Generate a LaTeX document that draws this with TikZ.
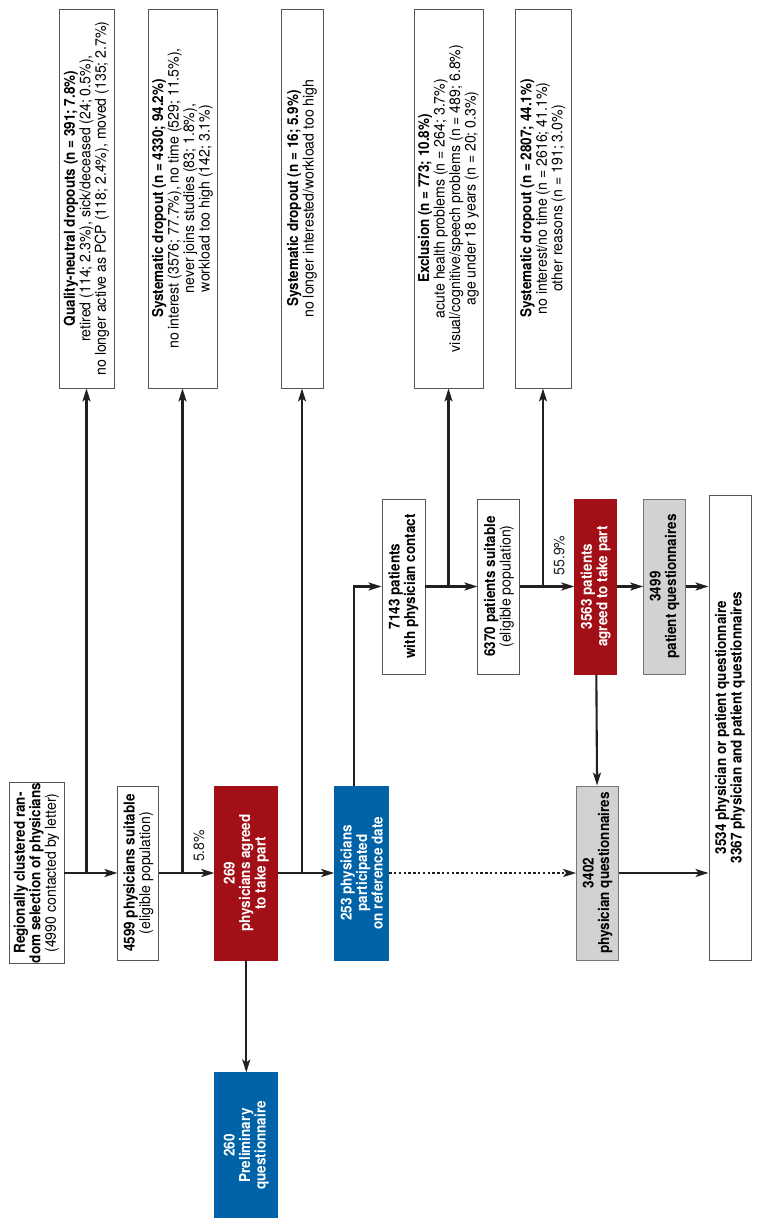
\documentclass[tikz,border=0pt]{standalone}
\usepackage{fontspec}
\setmainfont{TeX Gyre Heros}[FakeStretch=0.94, BoldFeatures={FakeStretch=0.90}]
\usetikzlibrary{arrows.meta,positioning}
\definecolor{dbRed}{HTML}{A30F17}
\definecolor{dbBlue}{HTML}{0063A7}
\definecolor{dbGray}{HTML}{D1D2D4}
\definecolor{dbLine}{HTML}{231F20}
\definecolor{dbFrame}{HTML}{555555}
\newcommand{\chartfont}{\fontsize{15}{15.5}\selectfont}

\begin{document}
\begin{tikzpicture}[rotate=90, transform shape, x=1pt, y=1pt,
  box/.style={draw=dbFrame, line width=0.9pt, align=center, inner xsep=0pt, inner ysep=2pt, minimum width=174pt, font=\chartfont},
  wide/.style={box, minimum width=379pt},
  redbox/.style={box, fill=dbRed, draw=dbRed, text=white, font=\chartfont\bfseries},
  bluebox/.style={box, fill=dbBlue, draw=dbBlue, text=white, font=\chartfont\bfseries},
  graybox/.style={box, fill=dbGray, draw=dbFrame!80, font=\chartfont\bfseries},
  arr/.style={-{Stealth[length=13pt, width=8pt, inset=3pt]}, line width=2.1pt, dbLine},
  dots/.style={arr, dash pattern=on 2.4pt off 2.4pt},
  pct/.style={font=\chartfont, pos=0.72, right=9pt, inner sep=1pt}]
\useasboundingbox (0,0) rectangle (1224,758);
% physicians
\node[box, minimum height=55pt] (reg) at (351,721.5) {\textbf{Regionally clustered ran-}\\\textbf{dom selection of physicians}\\(4990 contacted by letter)};
\node[box, minimum height=41pt, below=53pt of reg] (suit) {\textbf{4599 physicians suitable}\\(eligible population)};
\node[redbox, minimum height=63pt, below=55pt of suit] (a269) {269\\physicians agreed\\to take part};
\node[bluebox, minimum height=54pt, below=56pt of a269] (p253) {253 physicians\\participated\\on reference date};
\node[graybox, minimum height=42pt, below=187pt of p253] (q3402) {3402\\physician questionnaires};
\node[bluebox, minimum width=145pt, minimum height=63pt, left=112pt of a269] (pre260) {260\\Preliminary\\questionnaire};
% patients
\node[box, minimum width=175pt, minimum height=43pt, font=\chartfont\bfseries] (pat7143) at (637.5,354.5) {7143 patients\\with physician contact};
\node[box, minimum width=175pt, minimum height=42pt, below=52pt of pat7143] (pat6370) {\textbf{6370 patients suitable}\\(eligible population)};
\node[redbox, minimum width=175pt, minimum height=42pt, below=54pt of pat6370] (a3563) {3563 patients\\agreed to take part};
\node[graybox, minimum width=175pt, minimum height=42pt, below=26pt of a3563] (q3499) {3499\\patient questionnaires};
\node[box, minimum width=465pt, minimum height=42pt, font=\chartfont\bfseries] (fin) at (496.5,28) {3534 physician or patient questionnaire\\3367 physician and patient questionnaires};
% dropouts
\node[wide, minimum height=55pt] (dq) at (1025.5,671.5) {\textbf{Quality-neutral dropouts (n = 391; 7.8\%)}\\retired (114; 2.3\%), sick/deceased (24; 0.5\%),\\no longer active as PCP (118; 2.4\%), moved (135; 2.7\%)};
\node[wide, minimum height=69pt] (ds1) at (1025.5,575.5) {\textbf{Systematic dropout (n = 4330; 94.2\%)}\\no interest (3576; 77.7\%), no time (529; 11.5\%),\\never joins studies (83; 1.8\%),\\workload too high (142; 3.1\%)};
\node[wide, minimum height=42pt] (ds2) at (1025.5,456) {\textbf{Systematic dropout (n = 16; 5.9\%)}\\no longer interested/workload too high};
\node[wide, minimum height=69pt] (dex) at (1025.5,309.5) {\textbf{Exclusion (n = 773; 10.8\%)}\\acute health problems (n = 264; 3.7\%)\\visual/cognitive/speech problems (n = 489; 6.8\%)\\age under 18 years (n = 20; 0.3\%)};
\node[wide, minimum height=56pt] (ds3) at (1025.5,215) {\textbf{Systematic dropout (n = 2807; 44.1\%)}\\no interest/no time (n = 2616; 41.1\%)\\other reasons (n = 191; 3.0\%)};
% connectors
\draw[arr] (reg) -- (suit);
\draw[arr] (suit) -- node[pct]{5.8\%} (a269);
\draw[arr] (a269) -- (p253);
\draw[dots] (p253) -- (q3402);
\draw[arr] (a269) -- (pre260);
\draw[arr] (q3402.south) -- (q3402.south |- fin.north);
\draw[arr] ([yshift=8pt]p253.east) -| (pat7143.north);
\draw[arr] (pat7143) -- (pat6370);
\draw[arr] (pat6370) -- node[pct]{55.9\%} (a3563);
\draw[arr] (a3563) -- (q3499);
\draw[arr] (a3563) -- (q3402);
\draw[arr] (q3499.south) -- (q3499.south |- fin.north);
\draw[arr] (reg.south |- dq.west) -- (dq.west);
\draw[arr] (suit.south |- ds1.west) -- (ds1.west);
\draw[arr] (a269.south |- ds2.west) -- (ds2.west);
\draw[arr] (pat7143.south |- dex.west) -- (dex.west);
\draw[arr] (pat6370.south |- ds3.west) -- (ds3.west);
\end{tikzpicture}
\end{document}
